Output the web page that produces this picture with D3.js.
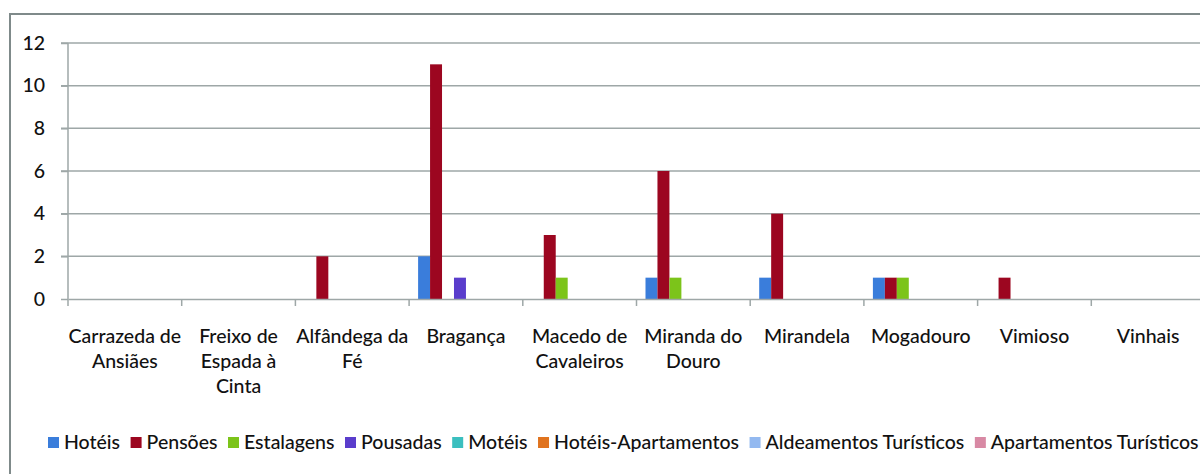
<!DOCTYPE html>
<html><head><meta charset="utf-8">
<script src="https://cdn.jsdelivr.net/npm/d3@7"></script>
<style>
html,body{margin:0;padding:0;background:#fff;}
svg{display:block;}
text{font-family:Lato, "Liberation Sans", sans-serif;fill:#111;font-weight:500;}
</style></head>
<body>
<svg id="chart" width="1200" height="474"></svg>
<script>
const categories = ["Carrazeda de\nAnsiães","Freixo de\nEspada à\nCinta","Alfândega da\nFé","Bragança","Macedo de\nCavaleiros","Miranda do\nDouro","Mirandela","Mogadouro","Vimioso","Vinhais"];
const seriesNames = ["Hotéis","Pensões","Estalagens","Pousadas","Motéis","Hotéis-Apartamentos","Aldeamentos Turísticos","Apartamentos Turísticos"];
const seriesColors = ["#3a7ddb","#9c0620","#7cc41a","#5a3dcc","#3bbfbf","#e0731e","#93b9f0","#d889a4"];
const hoteis      = [0,0,0,2,0,1,1,1,0,0];
const pensoes     = [0,0,2,11,3,6,4,1,1,0];
const estalagens  = [0,0,0,0,1,1,0,1,0,0];
const pousadas    = [0,0,0,1,0,0,0,0,0,0];
const moteis      = [0,0,0,0,0,0,0,0,0,0];
const hoteisApart = [0,0,0,0,0,0,0,0,0,0];
const aldeamentos = [0,0,0,0,0,0,0,0,0,0];
const apartTur    = [0,0,0,0,0,0,0,0,0,0];
const yTicks = [0,2,4,6,8,10,12];

const seriesValues = [hoteis,pensoes,estalagens,pousadas,moteis,hoteisApart,aldeamentos,apartTur];

const svg = d3.select("#chart");
const plotLeft = 68, bandW = 113.7, plotTop = 43, plotBottom = 299;
const plotRight = plotLeft + bandW*categories.length;
const fs = 19.5;

// outer border
svg.append("path").attr("d",`M10,474 V14 H1200`).attr("fill","none").attr("stroke","#7f8a8a").attr("stroke-width",2);

const x0 = d3.scaleBand().domain(categories).range([plotLeft,plotRight]).padding(0);
const gap = 9;
const x1 = d3.scaleBand().domain(seriesNames).range([gap, bandW-gap]).padding(0);
const y = d3.scaleLinear().domain([0,12]).range([plotBottom,plotTop]);

// gridlines
svg.append("g").selectAll("line").data(yTicks.filter(d=>d>0)).join("line")
  .attr("x1",plotLeft-7).attr("x2",1200).attr("y1",d=>y(d)).attr("y2",d=>y(d))
  .attr("stroke","#9ea7a7").attr("stroke-width",1.5);

// y axis
const yAxis = d3.axisLeft(y).tickValues(yTicks).tickSize(7).tickPadding(16);
const gy = svg.append("g").attr("transform",`translate(${plotLeft},0)`).call(yAxis);
gy.select(".domain").attr("stroke","#9ea7a7").attr("stroke-width",1.5).attr("d",`M0,${plotTop}V${plotBottom+7}`);
gy.selectAll(".tick line").attr("stroke","#9ea7a7").attr("stroke-width",1.5);
gy.selectAll(".tick text").style("font-size",fs+"px").style("font-family","Lato").style("font-weight","500").attr("fill","#111");

// bars
const groups = svg.append("g").selectAll("g").data(categories).join("g")
  .attr("transform",d=>`translate(${x0(d)},0)`);
groups.selectAll("rect").data((c,i)=>seriesNames.map((s,k)=>({s,k,v:seriesValues[k][i]})).filter(d=>d.v>0)).join("rect")
  .attr("x",d=>x1(d.s)).attr("width",x1.bandwidth())
  .attr("y",d=>y(d.v)).attr("height",d=>y(0)-y(d.v))
  .attr("fill",d=>seriesColors[d.k]);

// x axis
const xAxis = d3.axisBottom(x0).tickSize(0).tickFormat("");
const gx = svg.append("g").attr("transform",`translate(0,${plotBottom})`).call(xAxis);
gx.select(".domain").attr("stroke","#9ea7a7").attr("stroke-width",1.5);
// boundary ticks
svg.append("g").selectAll("line").data(categories.slice(1)).join("line")
  .attr("x1",d=>x0(d)).attr("x2",d=>x0(d)).attr("y1",plotBottom).attr("y2",plotBottom+7)
  .attr("stroke","#9ea7a7").attr("stroke-width",1.5);

// category labels
svg.append("g").selectAll("text").data(categories).join("text")
  .attr("x",d=>x0(d)+bandW/2).attr("y",343)
  .attr("text-anchor","middle").style("font-size",fs+"px")
  .each(function(d){
    const lines = d.split("\n");
    d3.select(this).selectAll("tspan").data(lines).join("tspan")
      .attr("x",x0(d)+bandW/2).attr("dy",(l,i)=>i===0?0:25).text(l=>l);
  });

// legend
const lg = svg.append("g");
let lx = 48;
seriesNames.forEach((s,k)=>{
  lg.append("rect").attr("x",lx).attr("y",437).attr("width",11).attr("height",11).attr("fill",seriesColors[k]);
  const t = lg.append("text").attr("x",lx+16).attr("y",448.5).style("font-size",fs+"px").text(s);
  lx += 16 + t.node().getComputedTextLength() + 10.5;
});
</script>
</body></html>
